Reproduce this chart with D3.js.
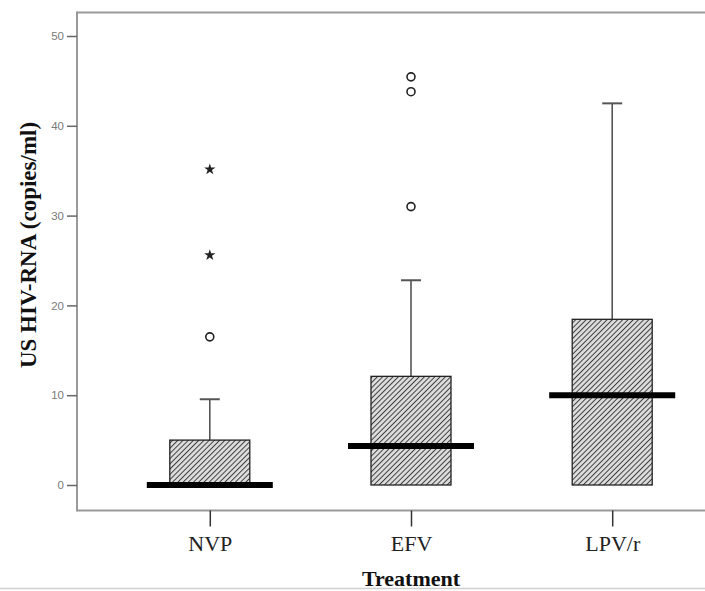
<!DOCTYPE html>
<html>
<head>
<meta charset="utf-8">
<script src="https://cdn.jsdelivr.net/npm/d3@7"></script>
<style>
  html, body { margin: 0; padding: 0; background: #fff; overflow: hidden; }
  svg { display: block; overflow: hidden; }
</style>
</head>
<body>
<svg id="chart" width="705" height="591"></svg>
<script>
// ---- data ----
const categories = ["NVP", "EFV", "LPV/r"];
const whiskerLow = [0, 0, 0];
const q1 = [0, 0, 0];
const median = [0, 4.35, 10.0];
const q3 = [5.0, 12.1, 18.45];
const whiskerHigh = [9.55, 22.8, 42.5];
const outlierCats = ["NVP", "EFV", "EFV", "EFV"];
const outlierVals = [16.5, 31.0, 43.8, 45.45];
const extremeCats = ["NVP", "NVP"];
const extremeVals = [25.6, 35.15];
const yTicks = [0, 10, 20, 30, 40, 50];
const xTitle = "Treatment";
const yTitle = "US HIV-RNA (copies/ml)";

// ---- layout ----
const W = 705;
const svg = d3.select("#chart");
const frame = { left: 77, top: 12.5, right: 745, bottom: 510.5 };

const y = d3.scaleLinear().domain([0, 50]).range([485, 36]);
const x = d3.scalePoint().domain(categories).range([frame.left, frame.right]).padding(0.66);

const boxW = 80, medW = 126, capW = 20;

// hatch pattern
const defs = svg.append("defs");
const hs = 3.7;
const pat = defs.append("pattern")
  .attr("id", "hatch").attr("patternUnits", "userSpaceOnUse")
  .attr("width", hs).attr("height", hs)
  .attr("patternTransform", "rotate(45)");
pat.append("rect").attr("width", hs).attr("height", hs).attr("fill", "#dcdcdc");
pat.append("line").attr("x1", 0).attr("y1", 0).attr("x2", 0).attr("y2", hs)
  .attr("stroke", "#3a3a3a").attr("stroke-width", 1.9);

// bottom separator line
svg.append("line").attr("x1", 0).attr("x2", W).attr("y1", 588.5).attr("y2", 588.5)
  .attr("stroke", "#d0d0d0").attr("stroke-width", 1.5);

// frame (right side runs off the page): only top, left, bottom
const frameG = svg.append("g").attr("stroke", "#9a9a9a").attr("stroke-width", 2);
frameG.append("line").attr("x1", frame.left).attr("x2", W).attr("y1", frame.top).attr("y2", frame.top);
frameG.append("line").attr("x1", frame.left).attr("x2", frame.left).attr("y1", frame.top - 1).attr("y2", frame.bottom + 1);
frameG.append("line").attr("x1", frame.left).attr("x2", W).attr("y1", frame.bottom).attr("y2", frame.bottom);

// y axis
const yAxis = svg.append("g").attr("transform", `translate(${frame.left},0)`)
  .call(d3.axisLeft(y).tickValues(yTicks).tickSize(10).tickPadding(3));
yAxis.select(".domain").remove();
yAxis.selectAll(".tick line").attr("stroke", "#666").attr("stroke-width", 1.5);
yAxis.selectAll(".tick text").attr("fill", "#7a7a7a")
  .style("font-family", "Liberation Sans, Arial, sans-serif").style("font-size", "11.5px");

// x axis
const xAxis = svg.append("g").attr("transform", `translate(0,${frame.bottom})`)
  .call(d3.axisBottom(x).tickSize(16).tickPadding(9));
xAxis.select(".domain").remove();
xAxis.selectAll(".tick line").attr("stroke", "#333").attr("stroke-width", 1.5);
xAxis.selectAll(".tick text").attr("fill", "#222")
  .style("font-family", "Liberation Serif, Times New Roman, serif").style("font-size", "22px");

// titles
svg.append("text").attr("x", 411).attr("y", 586)
  .attr("text-anchor", "middle")
  .style("font-family", "Liberation Serif, Times New Roman, serif")
  .style("font-size", "22px").style("font-weight", "bold").attr("fill", "#111")
  .text(xTitle);
svg.append("text").attr("transform", "translate(36,245) rotate(-90)")
  .attr("text-anchor", "middle")
  .style("font-family", "Liberation Serif, Times New Roman, serif")
  .style("font-size", "23px").style("font-weight", "bold").attr("fill", "#111")
  .text(yTitle);

// boxes
const g = svg.append("g");
categories.forEach((c, i) => {
  const cx = x(c);
  g.append("line").attr("x1", cx).attr("x2", cx)
    .attr("y1", y(q3[i])).attr("y2", y(whiskerHigh[i]))
    .attr("stroke", "#555").attr("stroke-width", 1.6);
  g.append("line").attr("x1", cx - capW / 2).attr("x2", cx + capW / 2)
    .attr("y1", y(whiskerHigh[i])).attr("y2", y(whiskerHigh[i]))
    .attr("stroke", "#555").attr("stroke-width", 2);
  if (whiskerLow[i] < q1[i]) {
    g.append("line").attr("x1", cx).attr("x2", cx)
      .attr("y1", y(q1[i])).attr("y2", y(whiskerLow[i]))
      .attr("stroke", "#555").attr("stroke-width", 1.6);
  }
  g.append("rect")
    .attr("x", cx - boxW / 2).attr("width", boxW)
    .attr("y", y(q3[i])).attr("height", y(q1[i]) - y(q3[i]))
    .attr("fill", "url(#hatch)").attr("stroke", "#222").attr("stroke-width", 1.3);
  g.append("line").attr("x1", cx - medW / 2).attr("x2", cx + medW / 2)
    .attr("y1", y(median[i])).attr("y2", y(median[i]))
    .attr("stroke", "#000").attr("stroke-width", 6);
});

// outliers
outlierVals.forEach((v, i) => {
  g.append("circle").attr("cx", x(outlierCats[i])).attr("cy", y(v)).attr("r", 4)
    .attr("fill", "#fff").attr("stroke", "#222").attr("stroke-width", 1.6);
});
// extremes
const star = d3.symbol().type(d3.symbolStar).size(40);
extremeVals.forEach((v, i) => {
  g.append("path").attr("d", star)
    .attr("transform", `translate(${x(extremeCats[i])},${y(v)})`)
    .attr("fill", "#222");
});
</script>
</body>
</html>
